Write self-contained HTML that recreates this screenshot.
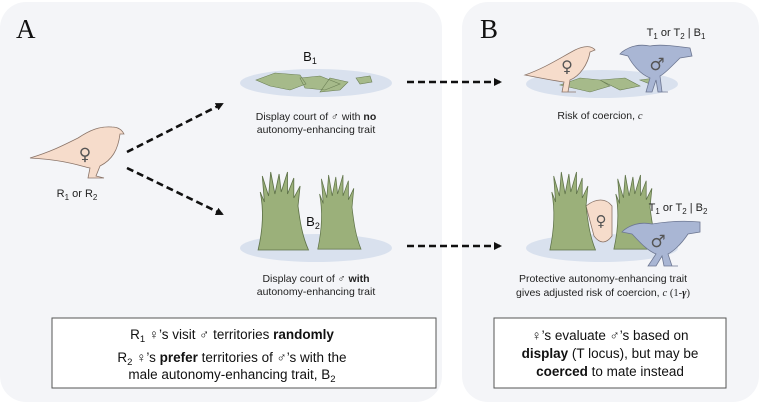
<!DOCTYPE html>
<html><head><meta charset="utf-8"><style>
html,body{margin:0;padding:0;background:#fff;}
svg{display:block;font-family:"Liberation Sans","DejaVu Sans",sans-serif;}
</style></head><body>
<svg width="759" height="407" viewBox="0 0 759 407" xmlns="http://www.w3.org/2000/svg">
<defs>
<marker id="ah" markerWidth="8" markerHeight="8" refX="6" refY="4" orient="auto" markerUnits="userSpaceOnUse">
<path d="M0,0 L8,4 L0,8 z" fill="#111"/></marker>
<g id="grass">
<path d="M2,78 C6,60 8,40 4,20 L8,30 L6,4 L12,24 L14,0 L18,22 L22,2 L24,20 L30,0 L30,22 L36,6 L36,26 L42,14 L40,34 C42,50 44,64 50,78 z" fill="#9bb07a" stroke="#5e7248" stroke-width="0.8"/>
</g>
</defs>
<rect x="0" y="2" width="442" height="400" rx="26" fill="#f4f5f8"/>
<rect x="462" y="2" width="297" height="400" rx="26" fill="#f4f5f8"/>
<text x="16" y="38" font-family="Liberation Serif,serif" font-size="27" fill="#111">A</text>
<text x="480" y="38" font-family="Liberation Serif,serif" font-size="27" fill="#111">B</text>

<path d="M30,158 C50,152 62,146 78,138 C90,130 100,126 112,127 C118,127 122,130 124,134 L120,134 C118,150 112,160 100,166 L96,176 L104,178 L96,178 L88,178 L90,168 C80,166 66,160 30,158 z" fill="#f6dccb" stroke="#8a7468" stroke-width="0.8"/>
<text x="85" y="160" font-size="17" fill="#555" text-anchor="middle" font-family="DejaVu Sans,sans-serif">♀</text>
<text x="77" y="197" font-size="11" fill="#222" text-anchor="middle">R<tspan font-size="8" dy="3">1</tspan><tspan dy="-3"> or R</tspan><tspan font-size="8" dy="3">2</tspan></text>

<line x1="127" y1="152" x2="222" y2="104" stroke="#111" stroke-width="2.6" stroke-dasharray="7,4" marker-end="url(#ah)"/>
<line x1="127" y1="168" x2="222" y2="214" stroke="#111" stroke-width="2.6" stroke-dasharray="7,4" marker-end="url(#ah)"/>

<text x="310" y="61" font-size="13" text-anchor="middle" fill="#111">B<tspan font-size="9" dy="3">1</tspan></text>
<ellipse cx="316" cy="83" rx="76" ry="14" fill="#d9e1ee"/>
<path d="M256,80 L275,73 L300,75 L306,84 L290,90 L270,86z M300,78 L320,76 L340,84 L325,90 L305,88z M330,78 L348,82 L340,90 L320,92z M356,78 L370,76 L372,82 L360,84z" fill="#a6ba8a" stroke="#6b7f55" stroke-width="0.6"/>
<text x="316" y="120" font-size="10.5" text-anchor="middle" fill="#222">Display court of ♂ with <tspan font-weight="bold">no</tspan></text>
<text x="316" y="133" font-size="10.5" text-anchor="middle" fill="#222">autonomy-enhancing trait</text>

<ellipse cx="316" cy="248" rx="76" ry="14" fill="#d9e1ee"/>
<use href="#grass" transform="translate(256,172) scale(1.05,1)"/>
<use href="#grass" transform="translate(316,175) scale(0.9,0.95)"/>
<text x="313" y="226" font-size="13" text-anchor="middle" fill="#111">B<tspan font-size="9" dy="3">2</tspan></text>
<text x="316" y="282" font-size="10.5" text-anchor="middle" fill="#222">Display court of ♂ <tspan font-weight="bold">with</tspan></text>
<text x="316" y="295" font-size="10.5" text-anchor="middle" fill="#222">autonomy-enhancing trait</text>

<rect x="52" y="318" width="384" height="70" fill="#fff" stroke="#555" stroke-width="1"/>
<text x="232" y="339" font-size="13.5" text-anchor="middle" fill="#111">R<tspan font-size="9.5" dy="3">1</tspan><tspan dy="-3"> ♀’s visit ♂ territories </tspan><tspan font-weight="bold">randomly</tspan></text>
<text x="232" y="362" font-size="13.5" text-anchor="middle" fill="#111">R<tspan font-size="9.5" dy="3">2</tspan><tspan dy="-3"> ♀’s </tspan><tspan font-weight="bold">prefer</tspan> territories of ♂’s with the</text>
<text x="232" y="379" font-size="13.5" text-anchor="middle" fill="#111">male autonomy-enhancing trait, B<tspan font-size="9.5" dy="3">2</tspan></text>

<line x1="407" y1="82" x2="500" y2="82" stroke="#111" stroke-width="2.6" stroke-dasharray="7,4" marker-end="url(#ah)"/>
<line x1="407" y1="246" x2="500" y2="246" stroke="#111" stroke-width="2.6" stroke-dasharray="7,4" marker-end="url(#ah)"/>

<text x="676" y="36" font-size="11" text-anchor="middle" fill="#222">T<tspan font-size="8" dy="3">1</tspan><tspan dy="-3"> or T</tspan><tspan font-size="8" dy="3">2</tspan><tspan dy="-3"> | B</tspan><tspan font-size="8" dy="3">1</tspan></text>
<ellipse cx="602" cy="84" rx="76" ry="14" fill="#d9e1ee"/>
<path d="M560,85 L580,78 L600,80 L610,86 L590,92z M600,80 L625,78 L640,86 L620,90z M640,80 L655,78 L650,84z" fill="#a6ba8a" stroke="#6b7f55" stroke-width="0.6"/>
<path d="M525,75 C545,68 560,58 575,50 C585,45 592,46 595,50 L590,52 C588,64 580,76 570,80 L568,92 L576,92 L562,92 L564,82 C550,80 540,78 525,75 z" fill="#f6dccb" stroke="#8a7468" stroke-width="0.8"/>
<text x="567" y="72" font-size="16" fill="#555" text-anchor="middle" font-family="DejaVu Sans,sans-serif">♀</text>
<path d="M622,52 C630,46 640,44 650,46 C660,44 675,46 690,48 L692,56 L680,58 C670,68 664,74 660,76 L662,92 L668,92 L658,92 L656,80 L652,92 L646,92 L650,78 C640,74 632,64 628,56 L620,54 z" fill="#a9b6d4" stroke="#6d7792" stroke-width="0.8"/>
<text x="657" y="70" font-size="17" fill="#555" text-anchor="middle" font-family="DejaVu Sans,sans-serif">♂</text>
<text x="600" y="119" font-size="10.5" text-anchor="middle" fill="#222">Risk of coercion, <tspan font-family="Liberation Serif,serif" font-style="italic">c</tspan></text>

<ellipse cx="602" cy="248" rx="76" ry="14" fill="#d9e1ee"/>
<path d="M586,206 C596,198 606,198 612,206 L612,236 C606,244 600,244 594,236 z" fill="#f6dccb" stroke="#8a7468" stroke-width="0.8"/>
<text x="601" y="226" font-size="15" fill="#555" text-anchor="middle" font-family="DejaVu Sans,sans-serif">♀</text>
<use href="#grass" transform="translate(548,172) scale(0.95,1)"/>
<use href="#grass" transform="translate(612,175) scale(0.95,0.95)"/>
<path d="M624,230 C632,224 642,222 652,224 C664,222 680,220 700,222 L700,232 L688,234 C680,246 672,252 668,254 L672,266 L678,266 L664,266 L662,256 L656,266 L648,266 L656,254 C646,250 638,240 632,234 L622,232 z" fill="#a9b6d4" stroke="#6d7792" stroke-width="0.8"/>
<text x="658" y="247" font-size="17" fill="#555" text-anchor="middle" font-family="DejaVu Sans,sans-serif">♂</text>
<text x="678" y="211" font-size="11" text-anchor="middle" fill="#222">T<tspan font-size="8" dy="3">1</tspan><tspan dy="-3"> or T</tspan><tspan font-size="8" dy="3">2</tspan><tspan dy="-3"> | B</tspan><tspan font-size="8" dy="3">2</tspan></text>
<text x="603" y="282" font-size="10.5" text-anchor="middle" fill="#222">Protective autonomy-enhancing trait</text>
<text x="603" y="296" font-size="10.5" text-anchor="middle" fill="#222">gives adjusted risk of coercion, <tspan font-family="Liberation Serif,serif" font-style="italic">c</tspan><tspan font-family="Liberation Serif,serif"> (1-</tspan><tspan font-family="Liberation Serif,serif" font-weight="bold" font-style="italic">γ</tspan><tspan font-family="Liberation Serif,serif">)</tspan></text>

<rect x="494" y="318" width="232" height="70" fill="#fff" stroke="#555" stroke-width="1"/>
<text x="610" y="340" font-size="13.5" text-anchor="middle" fill="#111">♀’s evaluate ♂’s based on</text>
<text x="610" y="358" font-size="13.5" text-anchor="middle" fill="#111"><tspan font-weight="bold">display</tspan> (T locus), but may be</text>
<text x="610" y="376" font-size="13.5" text-anchor="middle" fill="#111"><tspan font-weight="bold">coerced</tspan> to mate instead</text>
</svg>
</body></html>
